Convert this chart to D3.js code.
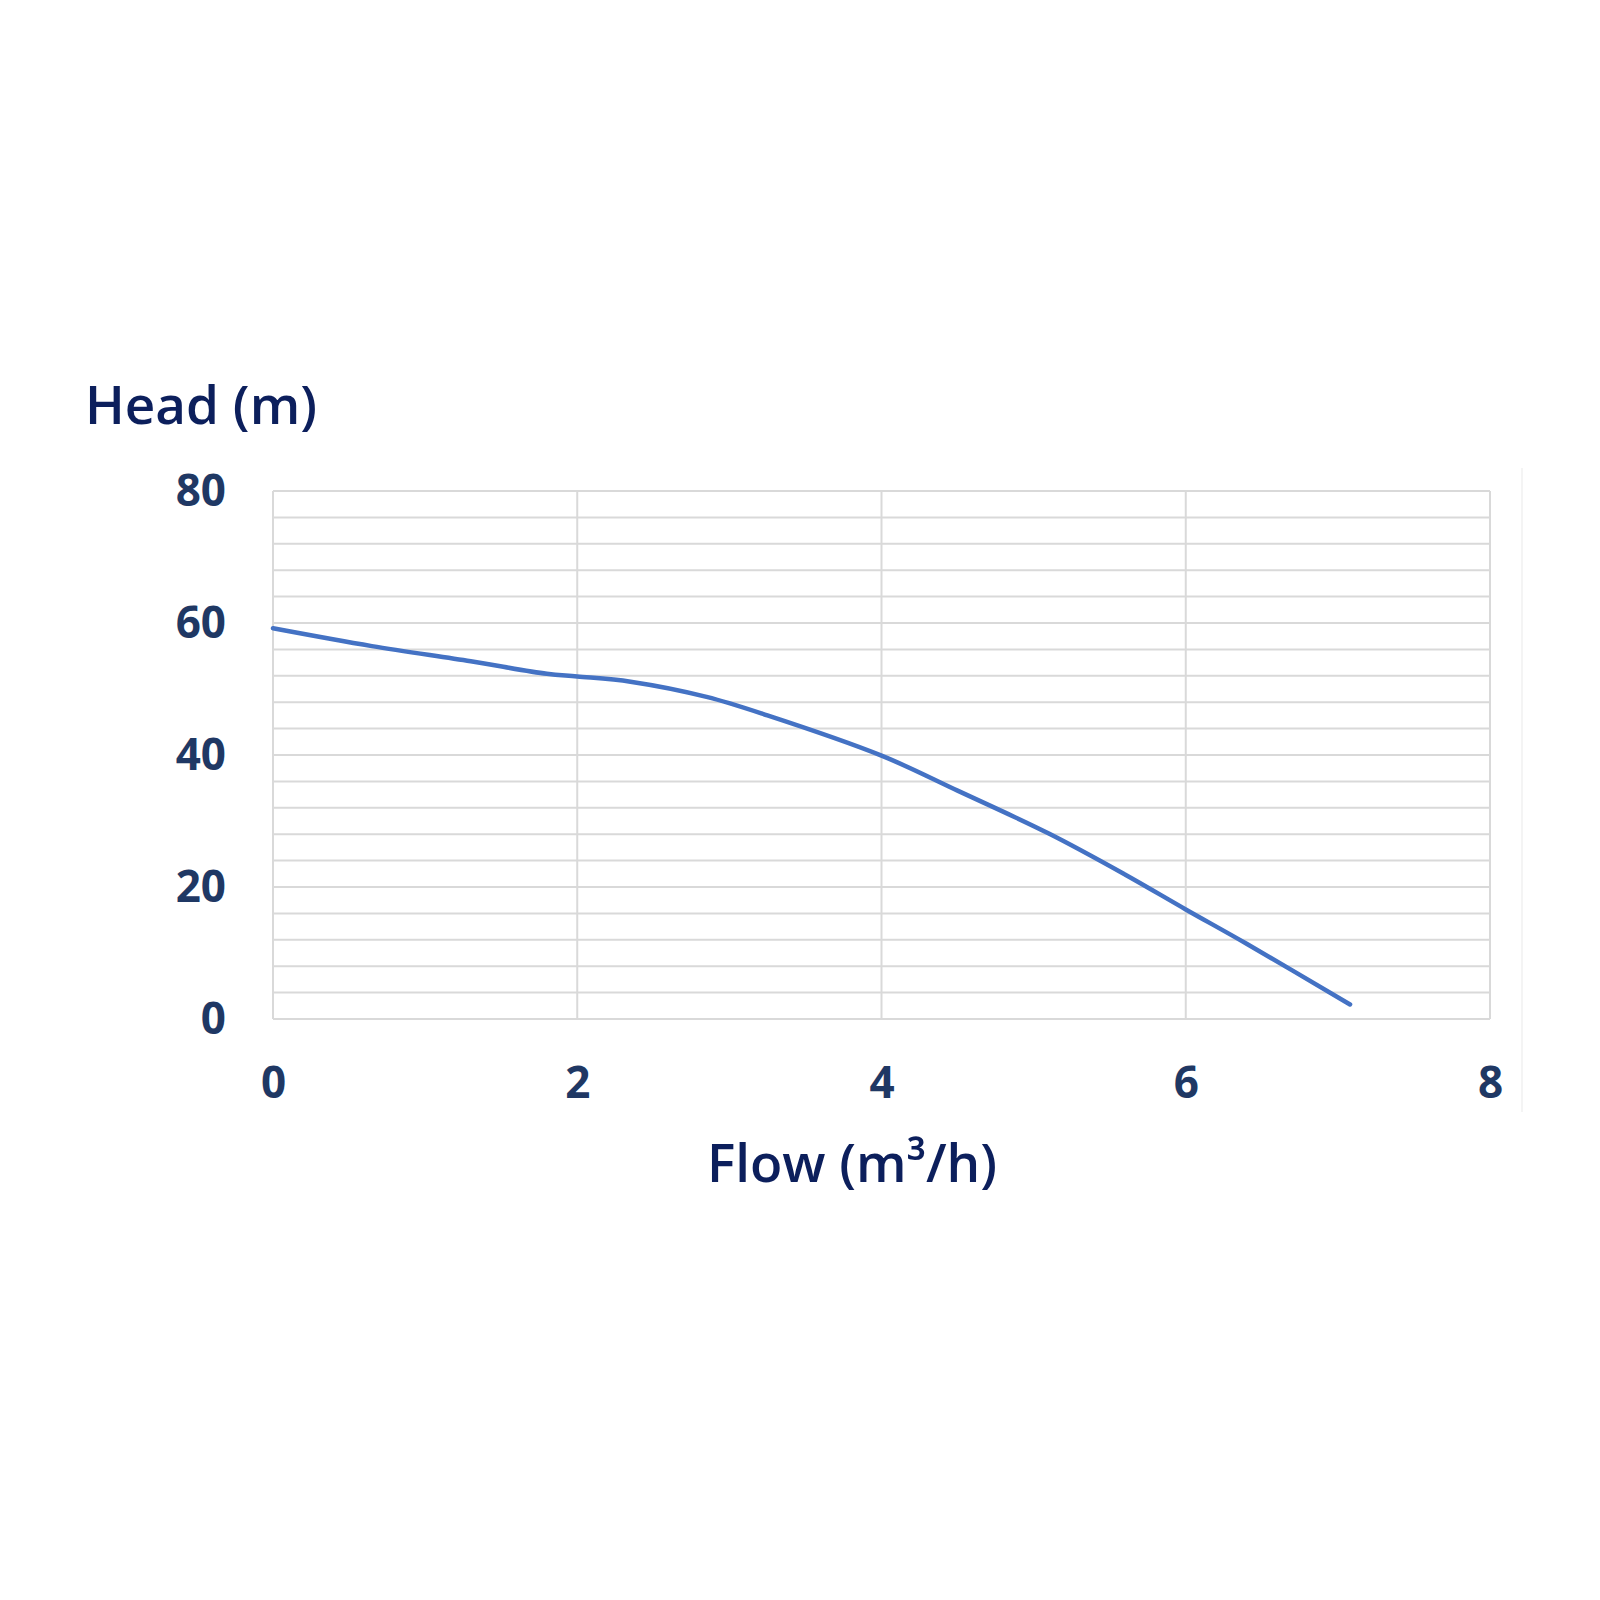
<!DOCTYPE html>
<html>
<head>
<meta charset="utf-8">
<script src="https://cdn.jsdelivr.net/npm/d3@7"></script>
<style>
    body { margin: 0; background: #fff; }
    .tick-label { font-family: "Open Sans", sans-serif; font-weight: 700; font-size: 44px; fill: #1f3864; }
    .axis-title { font-family: "Open Sans", sans-serif; font-weight: 600; font-size: 53px; fill: #0c1f5c; }
    .chart-line { fill: none; stroke: #4472c4; stroke-width: 4.5; stroke-linecap: round; }
</style>
</head>
<body>
<svg id="chart"></svg>
<script>
// pump curve
const flowValues = [0, 0.65, 1.3, 1.8, 2.0, 2.35, 2.85, 3.25, 4.0, 4.5, 5.1, 5.6, 6.0, 6.4, 7.08];
const headValues = [59.2, 56.5, 54.2, 52.3, 51.9, 51.1, 48.8, 46.0, 39.9, 34.6, 28.1, 21.9, 16.6, 11.4, 2.2];

const xTicks = [0, 2, 4, 6, 8];
const yTicks = [0, 20, 40, 60, 80];
const yGrid = d3.range(0, 81, 4);

const xTitle = 'Flow (m³/h)';
const yTitle = 'Head (m)';

class PumpChart {

    constructor(_config, _data) {
        this.config = {
            parentElement: _config.parentElement,
            containerWidth: _config.containerWidth || 1600,
            containerHeight: _config.containerHeight || 1600,
            margin: _config.margin || { top: 491, right: 110, bottom: 581, left: 273 }
        }
        this.data = _data;
        this.initVis();
    }

    initVis() {
        let vis = this;

        vis.width = vis.config.containerWidth - vis.config.margin.left - vis.config.margin.right;
        vis.height = vis.config.containerHeight - vis.config.margin.top - vis.config.margin.bottom;

        vis.xScale = d3.scaleLinear()
            .domain([0, 8])
            .range([0, vis.width]);

        vis.yScale = d3.scaleLinear()
            .domain([0, 80])
            .range([vis.height, 0]);

        vis.xAxis = d3.axisBottom(vis.xScale)
            .tickValues(xTicks)
            .tickSize(0)
            .tickPadding(48)
            .tickFormat(d => d);

        vis.yAxis = d3.axisLeft(vis.yScale)
            .tickValues(yTicks)
            .tickSize(0)
            .tickPadding(47);

        vis.svg = d3.select(vis.config.parentElement)
            .attr('width', vis.config.containerWidth)
            .attr('height', vis.config.containerHeight);

        // faint edge of the chart area on the right
        vis.svg.append('line')
            .attr('x1', 1522).attr('x2', 1522)
            .attr('y1', 468).attr('y2', 1112)
            .attr('stroke', '#f1f1f1')
            .attr('stroke-width', 1.5);

        vis.chart = vis.svg.append('g')
            .attr('transform', `translate(${vis.config.margin.left},${vis.config.margin.top})`);

        vis.grid = vis.chart.append('g');

        vis.xAxisG = vis.chart.append('g')
            .attr('class', 'axis x-axis')
            .attr('transform', `translate(0,${vis.height})`);

        vis.yAxisG = vis.chart.append('g')
            .attr('class', 'axis y-axis');

        vis.marks = vis.chart.append('g');

        vis.svg.append('text')
            .attr('class', 'axis-title')
            .attr('x', 85)
            .attr('y', 424)
            .text(yTitle);

        vis.svg.append('text')
            .attr('class', 'axis-title')
            .attr('text-anchor', 'middle')
            .attr('x', 852)
            .attr('y', 1182)
            .text(xTitle);

        vis.updateVis();
    }

    updateVis() {
        let vis = this;

        vis.xValue = d => d.flow;
        vis.yValue = d => d.head;

        vis.line = d3.line()
            .x(d => vis.xScale(vis.xValue(d)))
            .y(d => vis.yScale(vis.yValue(d)))
            .curve(d3.curveCatmullRom.alpha(0.5));

        vis.renderVis();
    }

    renderVis() {
        let vis = this;

        vis.grid.selectAll('.h-grid')
            .data(yGrid)
            .join('line')
            .attr('class', 'h-grid')
            .attr('x1', 0)
            .attr('x2', vis.width)
            .attr('y1', d => vis.yScale(d))
            .attr('y2', d => vis.yScale(d))
            .attr('stroke', '#d9d9d9')
            .attr('stroke-width', 2);

        vis.grid.selectAll('.v-grid')
            .data(xTicks)
            .join('line')
            .attr('class', 'v-grid')
            .attr('x1', d => vis.xScale(d))
            .attr('x2', d => vis.xScale(d))
            .attr('y1', 0)
            .attr('y2', vis.height)
            .attr('stroke', '#d9d9d9')
            .attr('stroke-width', 2);

        vis.marks.selectAll('.chart-line')
            .data([vis.data])
            .join('path')
            .attr('class', 'chart-line')
            .attr('d', vis.line);

        vis.xAxisG.call(vis.xAxis);
        vis.yAxisG.call(vis.yAxis);

        vis.chart.selectAll('.axis .domain').remove();
        vis.chart.selectAll('.axis text')
            .attr('class', 'tick-label')
            .attr('fill', null);
    }
}

const pumpData = flowValues.map((f, i) => ({ flow: f, head: headValues[i] }));

new PumpChart({ parentElement: '#chart' }, pumpData);
</script>
</body>
</html>
